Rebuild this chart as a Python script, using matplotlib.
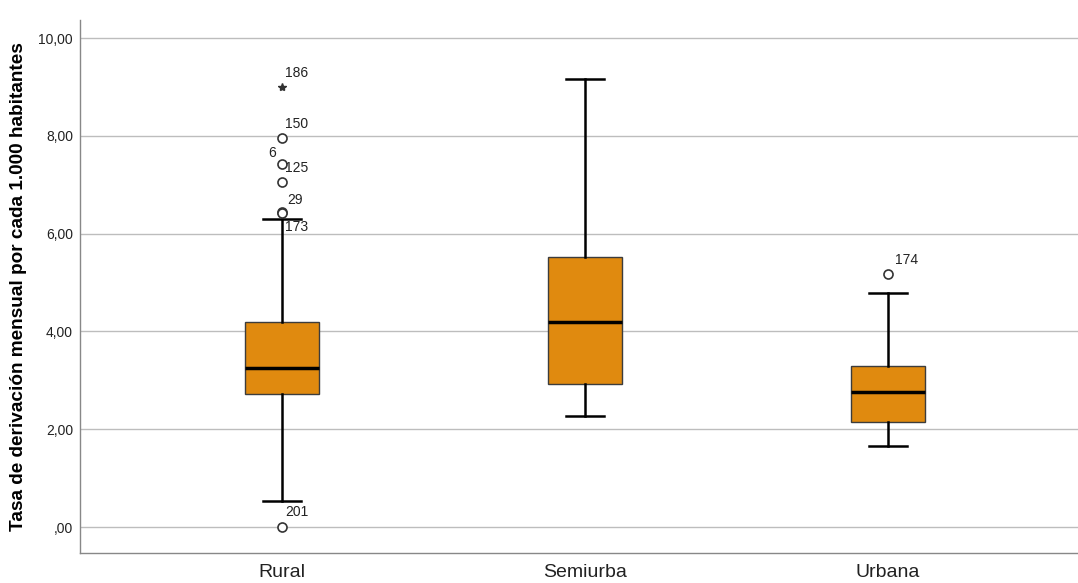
import matplotlib
matplotlib.use("Agg")
import matplotlib.pyplot as plt

plt.rcParams["font.family"] = ["Liberation Sans", "DejaVu Sans"]

categories = ["Rural", "Semiurba", "Urbana"]
q1 = [2.72, 2.92, 2.15]
median = [3.25, 4.19, 2.76]
q3 = [4.19, 5.52, 3.29]
whisker_low = [0.53, 2.27, 1.66]
whisker_high = [6.30, 9.16, 4.79]
# outliers (circles) per group: values and case ids
outlier_vals = [[7.95, 7.42, 7.06, 6.44, 6.42, 0.0], [], [5.17]]
outlier_ids = [["150", "6", "125", "29", "173", "201"], [], ["174"]]
# extreme values (stars)
extreme_vals = [[9.00], [], []]
extreme_ids = [["186"], [], []]

yticks = [0, 2, 4, 6, 8, 10]
ytick_labels = [",00", "2,00", "4,00", "6,00", "8,00", "10,00"]

fig = plt.figure(figsize=(10.78, 5.83), dpi=100)
ax = fig.add_axes([0.0742, 0.0515, 0.9258, 0.9142])

stats = []
for i, c in enumerate(categories):
    stats.append(dict(label=c, q1=q1[i], med=median[i], q3=q3[i],
                      whislo=whisker_low[i], whishi=whisker_high[i],
                      fliers=outlier_vals[i]))
pos = [1, 2, 3]
ax.bxp(stats, positions=pos, widths=0.245, patch_artist=True,
       boxprops=dict(facecolor="#E08A0F", edgecolor="#3c3c3c", linewidth=1.0),
       medianprops=dict(color="black", linewidth=2.5),
       whiskerprops=dict(color="black", linewidth=1.8),
       capprops=dict(color="black", linewidth=1.8),
       capwidths=0.125,
       flierprops=dict(marker="o", markersize=6.5, markerfacecolor="white",
                       markeredgecolor="#333333", markeredgewidth=1.2),
       zorder=3)

for i in range(3):
    if extreme_vals[i]:
        ax.plot([pos[i]] * len(extreme_vals[i]), extreme_vals[i], marker="*",
                linestyle="none", color="#333333", markersize=6, zorder=4)

# label offsets (in points) per case id
label_offset = {"186": (2, 10), "150": (2, 10), "6": (-10, 8), "125": (2, 10),
                "29": (4, 9), "173": (2, -10), "201": (2, 11), "174": (5, 10)}
for i in range(3):
    for v, lid in zip(extreme_vals[i] + outlier_vals[i], extreme_ids[i] + outlier_ids[i]):
        dx, dy = label_offset.get(lid, (2, 8))
        ax.annotate(lid, (pos[i], v), xytext=(dx, dy), textcoords="offset points",
                    fontsize=10, color="#222222", ha="left", va="center", zorder=5)

ax.set_xlim(0.3333, 3.627)
ax.set_ylim(-0.53, 10.37)
ax.set_yticks(yticks)
ax.set_yticklabels(ytick_labels)
ax.set_xticks(pos)
ax.set_xticklabels(categories)
ax.tick_params(axis="y", length=0, labelsize=10, pad=5, colors="#222222")
ax.tick_params(axis="x", length=0, labelsize=14, pad=8, colors="#222222")
ax.yaxis.grid(True, color="#bdbdbd", linewidth=1.0)
ax.set_axisbelow(True)
for s in ["top", "right"]:
    ax.spines[s].set_visible(False)
for s in ["left", "bottom"]:
    ax.spines[s].set_color("#888888")
    ax.spines[s].set_linewidth(1.0)
ax.set_ylabel("Tasa de derivación mensual por cada 1.000 habitantes",
              fontsize=13.7, fontweight="bold")
ax.yaxis.set_label_coords(-0.053, 0.5)

fig.savefig("out.png", dpi=100)
